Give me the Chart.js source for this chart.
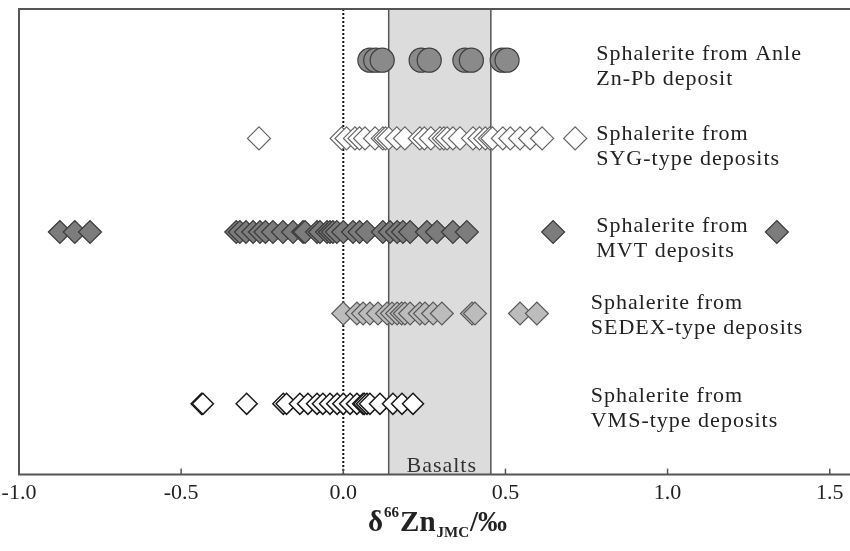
<!DOCTYPE html>
<html>
<head>
<meta charset="utf-8">
<script src="https://cdn.jsdelivr.net/npm/chart.js@4.4.0/dist/chart.umd.min.js"></script>
<style>
  body { margin: 0; background: #fff; }
  canvas { display: block; }
</style>
</head>
<body>
<canvas id="znChart" width="850" height="551"></canvas>
<script>
// delta66Zn values, one array per deposit group
const anleX = [0.082, 0.10, 0.12, 0.24, 0.265, 0.375, 0.395, 0.49, 0.505];
const sygX = [-0.26, -0.005, 0.01, 0.036, 0.05, 0.067, 0.098, 0.122, 0.13, 0.14, 0.165, 0.19,
              0.236, 0.25, 0.27, 0.298, 0.31, 0.32, 0.338, 0.36, 0.40, 0.42, 0.438, 0.452,
              0.46, 0.492, 0.515, 0.545, 0.576, 0.613, 0.715];
const mvtX = [-0.874, -0.828, -0.781, -0.33, -0.319, -0.30, -0.278, -0.257, -0.24, -0.217,
              -0.186, -0.155, -0.124, -0.118, -0.081, -0.072, -0.05, -0.041, -0.032, -0.02,
              0, 0.03, 0.05, 0.073, 0.122, 0.144, 0.166, 0.184, 0.206, 0.258, 0.289,
              0.338, 0.381, 0.647, 1.337];
const sedexX = [0, 0.042, 0.061, 0.082, 0.107, 0.135, 0.15, 0.166, 0.18, 0.19, 0.206,
                0.236, 0.252, 0.277, 0.304, 0.397, 0.406, 0.545, 0.597];
const vmsX = [-0.437, -0.433, -0.298, -0.185, -0.175, -0.134, -0.109, -0.081, -0.063,
              -0.041, -0.019, 0, 0.021, 0.042, 0.061, 0.065, 0.073, 0.082, 0.113, 0.153,
              0.181, 0.215];

// vertical position of each row (arbitrary units, 0..10)
const rowY = [8.9, 7.22, 5.21, 3.46, 1.52];
const rowLabels = [
    ['Sphalerite from Anle', 'Zn-Pb deposit'],
    ['Sphalerite from', 'SYG-type deposits'],
    ['Sphalerite from', 'MVT deposits'],
    ['Sphalerite from', 'SEDEX-type deposits'],
    ['Sphalerite from', 'VMS-type deposits']
];
const labelX = [0.78, 0.78, 0.78, 0.763, 0.763];
const basaltRange = [0.14, 0.455];
const tickLabels = ['-1.0', '-0.5', '0.0', '0.5', '1.0', '1.5'];

const serif = "'Liberation Serif', 'DejaVu Serif', serif";

const toPoints = (xs, row) => xs.map(x => ({ x: x, y: rowY[row] }));

// Extra drawing: basalt band, zero line, frame, labels, axis title
const decorPlugin = {
    id: 'decor',
    beforeDatasetsDraw(chart) {
        const { ctx, chartArea, scales } = chart;
        const xs = scales.x;
        const x1 = xs.getPixelForValue(basaltRange[0]);
        const x2 = xs.getPixelForValue(basaltRange[1]);
        ctx.save();
        ctx.fillStyle = '#dcdcdc';
        ctx.fillRect(x1, chartArea.top, x2 - x1, chartArea.bottom - chartArea.top);
        ctx.strokeStyle = '#555';
        ctx.lineWidth = 1.5;
        ctx.beginPath();
        ctx.moveTo(x1, chartArea.top); ctx.lineTo(x1, chartArea.bottom);
        ctx.moveTo(x2, chartArea.top); ctx.lineTo(x2, chartArea.bottom);
        ctx.stroke();

        // dotted zero line
        const x0 = xs.getPixelForValue(0);
        ctx.strokeStyle = '#111';
        ctx.lineWidth = 2;
        ctx.setLineDash([2, 2]);
        ctx.beginPath();
        ctx.moveTo(x0, chartArea.top); ctx.lineTo(x0, chartArea.bottom);
        ctx.stroke();
        ctx.setLineDash([]);

        ctx.fillStyle = '#333';
        ctx.font = '22px ' + serif;
        ctx.letterSpacing = '1px';
        ctx.textAlign = 'center';
        ctx.textBaseline = 'alphabetic';
        ctx.fillText('Basalts', (x1 + x2) / 2 + 2, chartArea.bottom - 3);
        ctx.restore();
    },
    afterDatasetsDraw(chart) {
        const { ctx, chartArea, scales } = chart;
        ctx.save();
        ctx.strokeStyle = '#555';
        ctx.lineWidth = 2;
        ctx.beginPath();
        ctx.moveTo(chartArea.right + 2, chartArea.top);
        ctx.lineTo(chartArea.left, chartArea.top);
        ctx.lineTo(chartArea.left, chartArea.bottom);
        ctx.lineTo(chartArea.right + 2, chartArea.bottom);
        ctx.stroke();
        // inward tick marks
        ctx.lineWidth = 1.5;
        scales.x.ticks.forEach(t => {
            const px = scales.x.getPixelForValue(t.value);
            ctx.beginPath();
            ctx.moveTo(px, chartArea.bottom);
            ctx.lineTo(px, chartArea.bottom - 6);
            ctx.stroke();
        });
        ctx.restore();
    },
    afterDraw(chart) {
        const { ctx, scales } = chart;
        ctx.save();
        ctx.fillStyle = '#222';
        ctx.font = '22px ' + serif;
        ctx.letterSpacing = '1px';
        ctx.textAlign = 'left';
        ctx.textBaseline = 'alphabetic';
        rowLabels.forEach((lines, i) => {
            const px = scales.x.getPixelForValue(labelX[i]);
            const py = scales.y.getPixelForValue(rowY[i]);
            const offs = [0, 2, 0, -5, -2][i];
            lines.forEach((line, j) => {
                ctx.fillText(line, px, py + offs + j * 25);
            });
        });

        // axis title: delta 66 Zn JMC / permil
        ctx.letterSpacing = '0px';
        let x = 368;
        const base = 531;
        const parts = [
            { t: '\u03B4', size: 29, dy: 0 },
            { t: '66', size: 15, dy: -14 },
            { t: 'Zn', size: 29, dy: 0 },
            { t: 'JMC', size: 15, dy: 6 },
            { t: '/\u2030', size: 29, dy: 0 }
        ];
        parts.forEach(p => {
            ctx.font = 'bold ' + p.size + 'px ' + serif;
            ctx.fillText(p.t, x, base + p.dy);
            x += ctx.measureText(p.t).width + 1;
        });
        ctx.restore();
    }
};

const ctx = document.getElementById('znChart').getContext('2d');
new Chart(ctx, {
    type: 'scatter',
    data: {
        datasets: [
            {
                label: 'Anle',
                data: toPoints(anleX, 0),
                pointStyle: 'circle',
                pointRadius: 12,
                backgroundColor: '#8a8a8a',
                borderColor: '#3e3e3e',
                borderWidth: 1.2
            },
            {
                label: 'SYG',
                data: toPoints(sygX, 1),
                pointStyle: 'rectRot',
                pointRadius: 11.5,
                backgroundColor: '#ffffff',
                borderColor: '#666666',
                borderWidth: 1.2
            },
            {
                label: 'MVT',
                data: toPoints(mvtX, 2),
                pointStyle: 'rectRot',
                pointRadius: 11.5,
                backgroundColor: '#7c7c7c',
                borderColor: '#3a3a3a',
                borderWidth: 1.2
            },
            {
                label: 'SEDEX',
                data: toPoints(sedexX, 3),
                pointStyle: 'rectRot',
                pointRadius: 11.5,
                backgroundColor: '#bcbcbc',
                borderColor: '#5a5a5a',
                borderWidth: 1.2
            },
            {
                label: 'VMS',
                data: toPoints(vmsX, 4),
                pointStyle: 'rectRot',
                pointRadius: 10.5,
                backgroundColor: '#ffffff',
                borderColor: '#1a1a1a',
                borderWidth: 1.5
            }
        ]
    },
    options: {
        responsive: false,
        animation: false,
        layout: { autoPadding: false, padding: { left: 19, top: 9, right: 0, bottom: 40 } },
        plugins: {
            legend: { display: false },
            tooltip: { enabled: false }
        },
        scales: {
            x: {
                type: 'linear',
                min: -1.0,
                max: 1.5625,
                grid: { display: false, drawTicks: false },
                border: { display: false },
                afterBuildTicks: scale => {
                    scale.ticks = tickLabels.map(s => ({ value: parseFloat(s) }));
                },
                afterFit: scale => {
                    scale.paddingLeft = 0;
                    scale.paddingRight = 0;
                },
                ticks: {
                    autoSkip: false,
                    maxRotation: 0,
                    padding: 5,
                    color: '#222',
                    font: { family: serif, size: 22 },
                    callback: v => v.toFixed(1)
                }
            },
            y: {
                display: false,
                min: 0,
                max: 10
            }
        }
    },
    plugins: [decorPlugin]
});
</script>
</body>
</html>
